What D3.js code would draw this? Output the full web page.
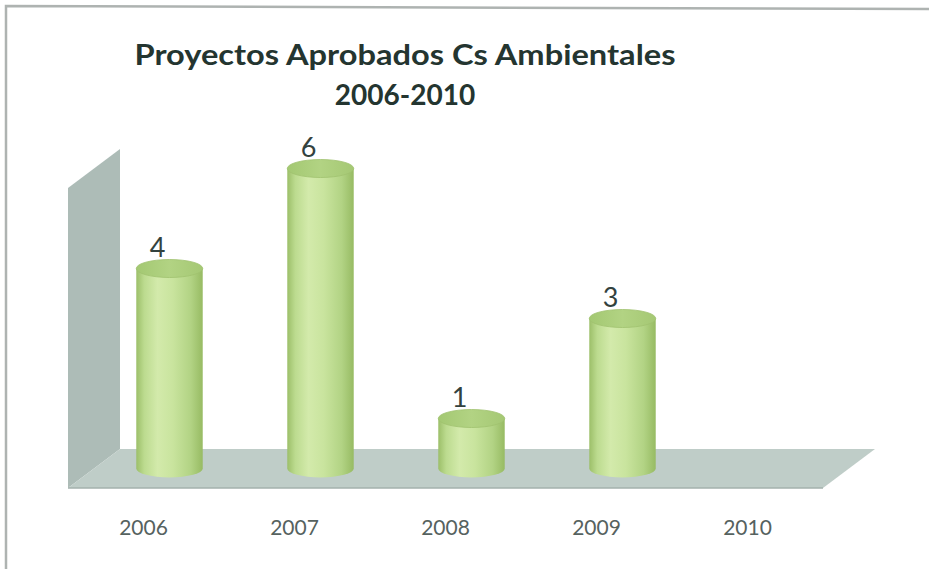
<!DOCTYPE html>
<html>
<head>
<meta charset="utf-8">
<script src="https://cdn.jsdelivr.net/npm/d3@7"></script>
<style>
  html, body { margin: 0; padding: 0; background: #ffffff; }
  svg { display: block; }
</style>
</head>
<body>
<svg id="chart" width="929" height="569"></svg>
<script>
// ---- data ----
const titleLines = ["Proyectos Aprobados Cs Ambientales", "2006-2010"];
const categories = ["2006", "2007", "2008", "2009", "2010"];
const values = [4, 6, 1, 3, 0];
const yMax = 6;

// ---- layout ----
const W = 929, H = 569;
const floorFront = 488;          // y of floor front edge
const depth = { dx: 52, dy: -39 }; // 3D depth vector (front -> back)
const x0 = 68, x1 = 823;         // front edge extent

const svg = d3.select("#chart");

const x = d3.scaleBand().domain(categories).range([x0, x1]);
const h = d3.scaleLinear().domain([0, yMax]).range([0, 300]);

// frame
svg.append("path")
  .attr("d", `M6,${H} L6,6 L${W},9`)
  .attr("fill", "none")
  .attr("stroke", "#aeb3b1")
  .attr("stroke-width", 2.5);

// defs
const defs = svg.append("defs");
const g1 = defs.append("linearGradient").attr("id", "cyl").attr("x1", 0).attr("x2", 1).attr("y1", 0).attr("y2", 0);
[["0%", "#9cbf69"], ["12%", "#bcdb8f"], ["32%", "#d3eaab"], ["55%", "#c9e49e"], ["82%", "#b2d384"], ["100%", "#97bb63"]]
  .forEach(([o, c]) => g1.append("stop").attr("offset", o).attr("stop-color", c));
const g2 = defs.append("linearGradient").attr("id", "top").attr("x1", 0).attr("x2", 1).attr("y1", 0).attr("y2", 0);
[["0%", "#a3c872"], ["50%", "#b2d383"], ["100%", "#a5c874"]]
  .forEach(([o, c]) => g2.append("stop").attr("offset", o).attr("stop-color", c));

// back wall (left side wall)
const wallH = h(yMax);
svg.append("polygon")
  .attr("points", [
    [x0, floorFront],
    [x0 + depth.dx, floorFront + depth.dy],
    [x0 + depth.dx, floorFront + depth.dy - wallH],
    [x0, floorFront - wallH]
  ].map(p => p.join(",")).join(" "))
  .attr("fill", "#adbcb7");

// floor
svg.append("polygon")
  .attr("points", [
    [x0, floorFront],
    [x0 + depth.dx, floorFront + depth.dy],
    [x1 + depth.dx, floorFront + depth.dy],
    [x1, floorFront]
  ].map(p => p.join(",")).join(" "))
  .attr("fill", "#bfcdc8");
svg.append("line")
  .attr("x1", x0).attr("x2", x1)
  .attr("y1", floorFront).attr("y2", floorFront)
  .attr("stroke", "#a3b1ac").attr("stroke-width", 1.5);

// cylinders
const rx = x.bandwidth() * 0.22;
const ry = 9;
const baseY = floorFront + depth.dy / 2;
const data = categories.map((c, i) => ({ c, v: values[i] })).filter(d => d.v > 0);

const cyl = svg.append("g").selectAll("g").data(data).join("g");
cyl.each(function (d) {
  const g = d3.select(this);
  const cx = x(d.c) + x.bandwidth() / 2 + depth.dx / 2;
  const topY = baseY - h(d.v);
  g.append("path")
    .attr("d", `M${cx - rx},${topY} L${cx - rx},${baseY} A${rx},${ry} 0 0 0 ${cx + rx},${baseY} L${cx + rx},${topY} Z`)
    .attr("fill", "url(#cyl)");
  g.append("ellipse")
    .attr("cx", cx).attr("cy", topY).attr("rx", rx).attr("ry", ry)
    .attr("fill", "url(#top)")
    .attr("stroke", "#9fc16e").attr("stroke-width", 0.8);
  g.append("text")
    .attr("x", cx - 12).attr("y", topY - ry - 3)
    .attr("text-anchor", "middle")
    .attr("font-family", "Lato, 'Open Sans', sans-serif")
    .attr("font-size", 27)
    .attr("fill", "#33423e")
    .text(d.v);
});

// category labels
svg.append("g").selectAll("text").data(categories).join("text")
  .attr("x", d => x(d) + x.bandwidth() / 2)
  .attr("y", 535)
  .attr("text-anchor", "middle")
  .attr("font-family", "Lato, 'Open Sans', sans-serif")
  .attr("font-size", 21)
  .attr("fill", "#56625f")
  .text(d => d);

// title
svg.append("text")
  .attr("x", 405).attr("y", 65)
  .attr("text-anchor", "middle")
  .attr("font-family", "Lato, 'Open Sans', sans-serif")
  .attr("font-weight", "bold")
  .attr("font-size", 28)
  .attr("fill", "#243530")
  .attr("textLength", 541)
  .attr("lengthAdjust", "spacingAndGlyphs")
  .text(titleLines[0]);
svg.append("text")
  .attr("x", 405).attr("y", 105)
  .attr("text-anchor", "middle")
  .attr("font-family", "Lato, 'Open Sans', sans-serif")
  .attr("font-weight", "bold")
  .attr("font-size", 28)
  .attr("fill", "#243530")
  .text(titleLines[1]);
</script>
</body>
</html>
